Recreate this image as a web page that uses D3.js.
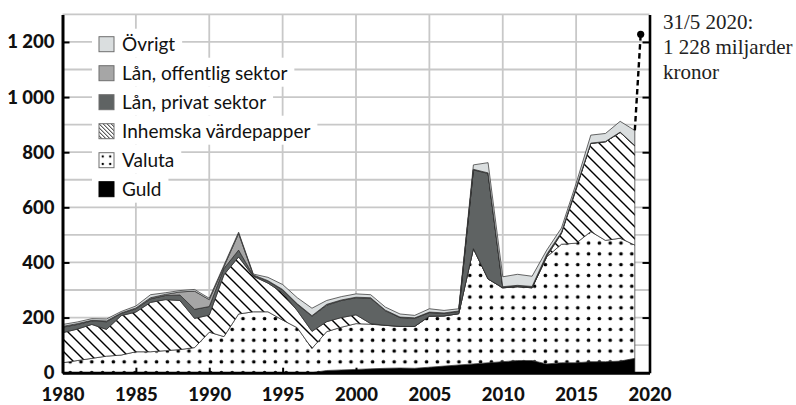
<!DOCTYPE html>
<html><head><meta charset="utf-8">
<script src="https://cdn.jsdelivr.net/npm/d3@7"></script>
<style>body{margin:0;background:#fff} svg{display:block}</style>
</head><body>
<svg id="c" width="796" height="405"></svg>
<script>
const years        = [1980,1981,1982,1983,1984,1985,1986,1987,1988,1989,1990,1991,1992,1993,1994,1995,1996,1997,1998,1999,2000,2001,2002,2003,2004,2005,2006,2007,2008,2009,2010,2011,2012,2013,2014,2015,2016,2017,2018,2019];
const guld         = [0,0,0,0,0,0,0,0,0,0,0,0,0,0,0,0,0,0,8,10,12,14,16,17,16,20,24,28,32,36,40,44,44,32,36,36,40,40,42,52];
const valuta       = [36,44,52,60,64,76,76,80,84,91,147,131,213,221,221,191,163,88,141,155,166,162,156,151,152,185,182,186,418,304,268,268,264,388,430,434,472,440,446,411];
const inhemska     = [109,114,123,97,143,144,179,185,178,106,62,224,207,129,104,99,62,62,36,35,32,2,0,0,0,0,0,0,0,0,0,0,0,2,39,195,320,358,384,360];
const lanPrivat    = [20,17,13,28,8,12,13,15,20,33,31,23,25,3,7,10,23,55,60,62,62,92,53,32,29,13,9,8,286,383,2,3,3,6,3,5,0,0,0,0];
const lanOffentlig = [3,3,2,3,2,3,4,4,11,66,25,7,60,2,2,2,2,2,3,2,2,2,2,2,2,2,2,2,2,2,2,2,2,2,2,2,1,1,1,1];
const ovrigt       = [7,6,6,7,5,7,11,6,5,6,5,5,5,3,12,18,22,27,14,12,12,11,11,11,9,12,9,8,16,37,36,40,37,15,15,15,29,29,39,55];

const seriesKeys   = ["guld","valuta","inhemska","lanPrivat","lanOffentlig","ovrigt"];
const legendKeys   = ["ovrigt","lanOffentlig","lanPrivat","inhemska","valuta","guld"];
const legendLabels = ["Övrigt","Lån, offentlig sektor","Lån, privat sektor","Inhemska värdepapper","Valuta","Guld"];

const yTickValues  = [0,200,400,600,800,1000,1200];
const yTickLabels  = ["0","200","400","600","800","1 000","1 200"];
const yGridValues  = [100,200,300,400,500,600,700,800,900,1000,1100,1200,1300];
const xTickValues  = [1980,1985,1990,1995,2000,2005,2010,2015,2020];
const xGridValues  = [1985,1990,1995,2000,2005,2010,2015];

const annotEndYear  = 2019.4;
const annotEndValue = 1228;
const annotLines    = ["31/5 2020:", "1 228 miljarder", "kronor"];

const svg = d3.select("#c");
const x = d3.scaleLinear().domain([1980, 2020]).range([62.5, 649.5]);
const y = d3.scaleLinear().domain([0, 1300]).range([372.7, 14.4]);

const defs = svg.append("defs");
function dotPattern(id, s, r) {
  const p = defs.append("pattern").attr("id", id).attr("patternUnits", "userSpaceOnUse")
    .attr("width", s).attr("height", s);
  p.append("rect").attr("width", s).attr("height", s).attr("fill", "#fff");
  p.append("circle").attr("cx", s/2).attr("cy", s/2).attr("r", r).attr("fill", "#000");
}
function hatchPattern(id, s, w) {
  const p = defs.append("pattern").attr("id", id).attr("patternUnits", "userSpaceOnUse")
    .attr("width", s).attr("height", s);
  p.append("rect").attr("width", s).attr("height", s).attr("fill", "#fff");
  p.append("path").attr("d", `M0,0L${s},${s}M${-s/2},${s/2}L${s/2},${s*1.5}M${s/2},${-s/2}L${s*1.5},${s/2}`)
    .attr("stroke", "#000").attr("stroke-width", w);
}
dotPattern("dots", 10.8, 1.8);
hatchPattern("hatch", 12, 1.4);
dotPattern("dotsL", 7.5, 1.2);
hatchPattern("hatchL", 4, 0.9);

const fills  = {guld:"#000", valuta:"url(#dots)", inhemska:"url(#hatch)", lanPrivat:"#5f6363", lanOffentlig:"#a6a6a6", ovrigt:"#dadedf"};
const lfills = {guld:"#000", valuta:"url(#dotsL)", inhemska:"url(#hatchL)", lanPrivat:"#5f6363", lanOffentlig:"#a6a6a6", ovrigt:"#dadedf"};

// gridlines
const grid = svg.append("g").attr("stroke", "#c8c8c8").attr("stroke-width", 1.8);
grid.selectAll(".h").data(yGridValues).join("line")
  .attr("x1", x(1980)).attr("x2", x(2020)).attr("y1", d => y(d)).attr("y2", d => y(d));
grid.selectAll(".v").data(xGridValues).join("line")
  .attr("x1", d => x(d)).attr("x2", d => x(d)).attr("y1", y(0)).attr("y2", y(1300));

// stacked areas
const rows = years.map((yr, i) => ({year: yr, guld: guld[i], valuta: valuta[i], inhemska: inhemska[i],
  lanPrivat: lanPrivat[i], lanOffentlig: lanOffentlig[i], ovrigt: ovrigt[i]}));
const stacked = d3.stack().keys(seriesKeys)(rows);
const area = d3.area().x(d => x(d.data.year)).y0(d => y(d[0])).y1(d => y(d[1]));
svg.append("g").selectAll("path").data(stacked).join("path")
  .attr("d", area).attr("fill", d => fills[d.key])
  .attr("stroke", "#2a2a2a").attr("stroke-width", 0.7).attr("stroke-linejoin", "round");

// dashed annotation line
const lastTop = stacked[stacked.length - 1][years.length - 1][1];
const annot = [{yr: years[years.length - 1], v: lastTop}, {yr: annotEndYear, v: annotEndValue}];
svg.append("path").datum(annot)
  .attr("d", d3.line().x(d => x(d.yr)).y(d => y(d.v)))
  .attr("fill", "none").attr("stroke", "#000").attr("stroke-width", 2.4).attr("stroke-dasharray", "5.5,3.5");
svg.append("circle").attr("cx", x(annotEndYear)).attr("cy", y(annotEndValue)).attr("r", 3.6).attr("fill", "#000");

// axes
const axFont = "Lato, 'DejaVu Sans', sans-serif";
const gl = svg.append("g").attr("transform", `translate(${x(1980)},0)`)
  .call(d3.axisLeft(y).tickValues(yTickValues).tickFormat((d, i) => yTickLabels[i])
    .tickSizeInner(-7).tickSizeOuter(0).tickPadding(8));
const gr = svg.append("g").attr("transform", `translate(${x(2020)},0)`)
  .call(d3.axisRight(y).tickValues(yTickValues.slice(1)).tickFormat("")
    .tickSizeInner(-7).tickSizeOuter(0));
const gb = svg.append("g").attr("transform", `translate(0,${y(0)})`)
  .call(d3.axisBottom(x).tickValues(xTickValues).tickFormat(d3.format("d"))
    .tickSizeInner(-5).tickSizeOuter(0).tickPadding(15));
[gl, gr, gb].forEach(g => {
  g.select(".domain").attr("stroke", "#000").attr("stroke-width", 3);
  g.selectAll(".tick line").attr("stroke", "#000").attr("stroke-width", 2);
  g.selectAll("text").attr("font-family", axFont).attr("font-weight", "900")
    .attr("font-size", 18.5).attr("fill", "#111");
});
gr.select(".domain").attr("stroke-width", 2.6);

// legend
const lg = svg.append("g").attr("transform", "translate(99,36.7)");
const items = lg.selectAll("g").data(legendKeys).join("g")
  .attr("transform", (d, i) => `translate(0,${i * 29})`);
items.append("rect").attr("class", "bg").attr("fill", "#fff");
items.append("rect").attr("width", 15).attr("height", 15).attr("fill", d => lfills[d])
  .attr("stroke", d => d === "guld" ? "#000" : "#6e6e6e").attr("stroke-width", 1);
items.append("text").attr("x", 23).attr("y", 14.5).text((d, i) => legendLabels[i])
  .attr("font-family", axFont).attr("font-size", 19).attr("fill", "#111");
items.each(function() {
  const g = d3.select(this);
  const w = g.select("text").node().getComputedTextLength();
  g.select(".bg").attr("x", -7).attr("y", -8).attr("width", w + 23 + 14).attr("height", 29);
});

// annotation text
svg.append("g").selectAll("text").data(annotLines).join("text")
  .attr("x", 663).attr("y", (d, i) => 29 + i * 25).text(d => d)
  .attr("font-family", "'Liberation Serif', 'DejaVu Serif', serif").attr("font-size", 21).attr("fill", "#222");
</script>
</body></html>
